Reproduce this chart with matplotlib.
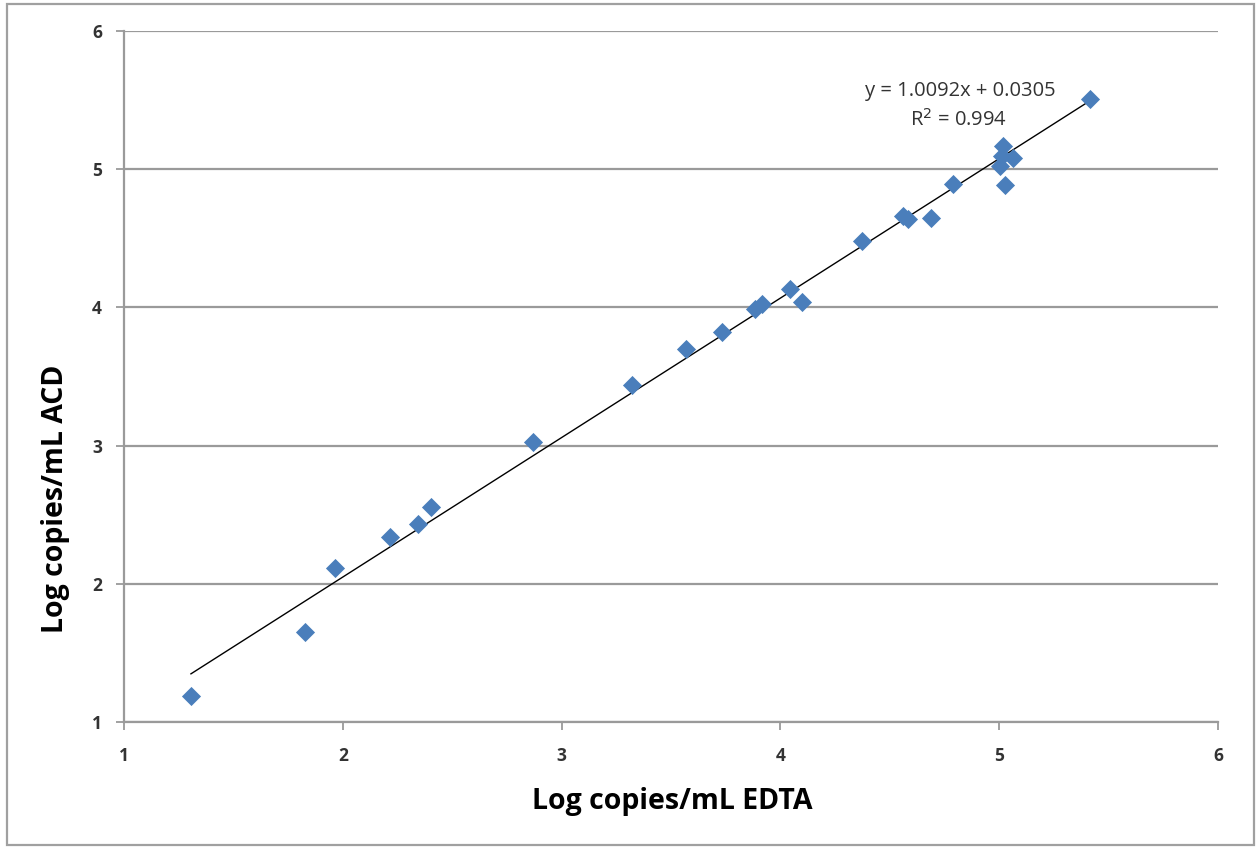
import matplotlib.pyplot as plt
import numpy as np
from matplotlib.patches import Rectangle

edta = [1.306, 1.827, 1.964, 2.216, 2.344, 2.403, 2.869, 3.322, 3.569, 3.733,
        3.884, 3.916, 4.044, 4.099, 4.373, 4.560, 4.583, 4.688, 4.789, 5.004,
        5.013, 5.017, 5.063, 5.026, 5.415]
acd = [1.188, 1.651, 2.114, 2.339, 2.433, 2.556, 3.026, 3.438, 3.699, 3.822,
       3.988, 4.025, 4.133, 4.039, 4.480, 4.661, 4.640, 4.647, 4.892, 5.023,
       5.095, 5.168, 5.081, 4.884, 5.508]
slope, intercept = 1.0092, 0.0305
r2 = 0.994

fig = plt.figure(figsize=(12.59, 8.48), dpi=100)
ax = fig.add_axes([124/1259, 1 - 722/848, (1218 - 124)/1259, (722 - 31)/848])

# outer frame of the chart area
fig.patches.append(Rectangle((7/1259, 3/848), 1247/1259, 841/848, transform=fig.transFigure,
                             fill=False, edgecolor='#a0a0a0', lw=1.6))

ax.scatter(edta, acd, marker='D', s=95, color='#4a7ebb', zorder=3, linewidths=0)
xs = np.array([min(edta), max(edta)])
ax.plot(xs, slope * xs + intercept, color='black', lw=1.0, zorder=2)

ax.set_xlim(1, 6)
ax.set_ylim(1, 6)
ax.set_xticks(range(1, 7))
ax.set_yticks(range(1, 7))
ax.grid(axis='y', color='#9a9a9a', lw=1.6)
ax.set_axisbelow(True)
for s in ['top', 'right']:
    ax.spines[s].set_visible(False)
for s in ['left', 'bottom']:
    ax.spines[s].set_color('#9a9a9a')
    ax.spines[s].set_linewidth(1.6)
ax.tick_params(axis='both', color='#9a9a9a', width=1.3, length=6, labelsize=12.5)
ax.tick_params(axis='y', pad=10)
ax.tick_params(axis='x', pad=12)
for lab in ax.get_xticklabels() + ax.get_yticklabels():
    lab.set_fontweight('bold')
    lab.set_fontfamily('Open Sans')
    lab.set_color('#333333')

fig.text(672/1259, 1 - 802/848, 'Log copies/mL EDTA', ha='center', va='center',
         fontsize=20.5, fontweight='bold', family='Open Sans')
fig.text(55/1259, 1 - 499/848, 'Log copies/mL ACD', ha='center', va='center',
         rotation=90, fontsize=20.5, fontweight='bold', family='Open Sans')

fig.text(960/1259, 1 - 91/848, f'y = {slope}x + {intercept}', ha='center', va='center',
         fontsize=14.5, family='Open Sans', color='#333333')
fig.text(959/1259, 1 - 120/848, f'R$^2$ = {r2}', ha='center', va='center',
         fontsize=14.5, family='Open Sans', color='#333333')

fig.savefig('out.png', dpi=100)
